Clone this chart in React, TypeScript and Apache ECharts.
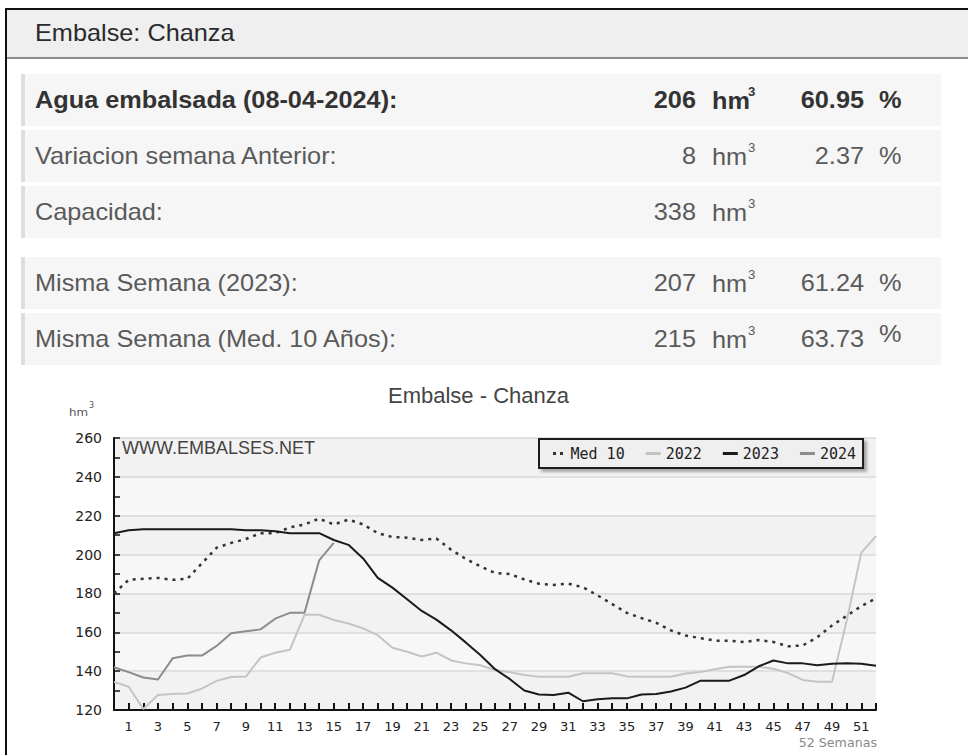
import React, { useEffect, useRef } from 'react';
import * as echarts from 'echarts';

// ---------- data ----------
const weeks = ['0','1','2','3','4','5','6','7','8','9','10','11','12','13','14','15','16','17','18','19','20','21','22','23','24','25','26','27','28','29','30','31','32','33','34','35','36','37','38','39','40','41','42','43','44','45','46','47','48','49','50','51','52'];

const med10 = [180, 187, 187.5, 188, 187, 187.5, 195.5, 203.5, 206, 208, 211, 211, 214, 215.5, 218.5, 215.5, 218, 215.5, 211, 209, 208.7, 207.5, 208.3, 202.5, 197.8, 194, 190.5, 190, 187.2, 185, 184.4, 185, 183.2, 179, 174.5, 170, 167.3, 164.9, 161, 158.3, 157, 155.7, 155.6, 155, 156, 155, 152.8, 153.2, 157.5, 163.5, 168.5, 173.5, 177.5];

const y2022 = [134.5, 132, 120.5, 127.7, 128.2, 128.5, 131, 135, 137, 137.2, 147, 149.5, 151, 169, 169, 166.3, 164.5, 162, 158.5, 152, 150, 147.5, 149.5, 145.5, 144, 143, 140.5, 139.5, 138, 137.1, 137.1, 137.1, 138.9, 138.9, 138.9, 137.3, 137.1, 137.1, 137.1, 138.8, 139.5, 141, 142.3, 142.3, 142.3, 141.2, 139, 135.5, 134.6, 134.6, 166, 201, 209.5];

const y2023 = [211, 212.5, 213, 213, 213, 213, 213, 213, 213, 212.5, 212.5, 212, 211, 211, 211, 207.5, 205, 198, 188, 183, 177, 171, 166.5, 161, 154.8, 148.3, 141, 136, 130, 128, 127.7, 128.9, 124.5, 125.5, 126, 126, 128, 128.2, 129.5, 131.5, 135, 135, 135.1, 138, 142.5, 145.5, 144, 144, 143, 143.8, 144, 143.8, 142.8];

const y2024 = [142, 139.5, 136.7, 135.7, 146.6, 148, 148, 153, 159.5, 160.5, 161.5, 167, 170, 170, 197, 206];

const seriesNames = ['Med 10', '2022', '2023', '2024'];

const yMin = 120;
const yMax = 260;
const yStep = 20;

const headerTitle = 'Embalse: Chanza';
const rowLabels = ['Agua embalsada (08-04-2024):', 'Variacion semana Anterior:', 'Capacidad:', 'Misma Semana (2023):', 'Misma Semana (Med. 10 Años):'];
const rowVolumes = ['206', '8', '338', '207', '215'];
const rowPercents = ['60.95', '2.37', '', '61.24', '63.73'];

const chartTitle = 'Embalse - Chanza';
const watermark = 'WWW.EMBALSES.NET';
const xAxisNote = '52 Semanas';

// ---------- layout ----------
const rowTops = [74, 130, 186, 257, 313];
const ROW_H = 52;
const SANS = '"Liberation Sans", Arial, sans-serif';
const VERD = '"DejaVu Sans", Verdana, sans-serif';
const MONO = '"DejaVu Sans Mono", monospace';

function buildGraphic() {
  const g: any[] = [];
  // header band
  g.push({ type: 'rect', shape: { x: 6, y: 10, width: 962, height: 47 }, style: { fill: '#efefef' }, silent: true });
  g.push({ type: 'rect', shape: { x: 6, y: 57, width: 962, height: 2 }, style: { fill: '#8c8c8c' }, silent: true });
  // black frame
  g.push({ type: 'rect', shape: { x: 5, y: 8, width: 963, height: 2 }, style: { fill: '#111' }, silent: true });
  g.push({ type: 'rect', shape: { x: 5, y: 8, width: 2, height: 747 }, style: { fill: '#111' }, silent: true });
  g.push({
    type: 'text', x: 35, y: 33, scaleX: 1.1,
    style: { text: headerTitle, fontSize: 23, fontFamily: SANS, fill: '#2a2a2a', align: 'left', verticalAlign: 'middle' },
  });

  rowLabels.forEach((label, i) => {
    const top = rowTops[i];
    const cy = top + ROW_H / 2;
    const bold = i === 0;
    const color = bold ? '#333' : '#5a5a5a';
    const weight = bold ? 'bold' : 'normal';
    g.push({ type: 'rect', shape: { x: 21, y: top, width: 920, height: ROW_H }, style: { fill: '#f6f6f6' }, silent: true });
    g.push({ type: 'rect', shape: { x: 21, y: top, width: 4, height: ROW_H }, style: { fill: '#dedede' }, silent: true });
    g.push({
      type: 'text', x: 35, y: cy, scaleX: 1.1,
      style: { text: label, fontSize: 23, fontWeight: weight, fontFamily: SANS, fill: color, align: 'left', verticalAlign: 'middle' },
    });
    g.push({
      type: 'text', x: 696, y: cy, scaleX: 1.1,
      style: { text: rowVolumes[i], fontSize: 23, fontWeight: weight, fontFamily: SANS, fill: color, align: 'right', verticalAlign: 'middle' },
    });
    g.push({
      type: 'text', x: 712, y: cy + 1, scaleX: 1.1,
      style: { text: 'hm', fontSize: 23, fontWeight: weight, fontFamily: SANS, fill: color, align: 'left', verticalAlign: 'middle' },
    });
    g.push({
      type: 'text', x: 748, y: cy - 8, scaleX: 1.1,
      style: { text: '3', fontSize: 12, fontWeight: weight, fontFamily: SANS, fill: color, align: 'left', verticalAlign: 'middle' },
    });
    if (rowPercents[i]) {
      g.push({
        type: 'text', x: 864, y: cy, scaleX: 1.1,
        style: { text: rowPercents[i], fontSize: 23, fontWeight: weight, fontFamily: SANS, fill: color, align: 'right', verticalAlign: 'middle' },
      });
      g.push({
        type: 'text', x: 879, y: i === 4 ? cy - 5 : cy, scaleX: 1.1,
        style: { text: '%', fontSize: 23, fontWeight: weight, fontFamily: SANS, fill: color, align: 'left', verticalAlign: 'middle' },
      });
    }
  });

  // unit label of the value axis
  g.push({ type: 'text', x: 69, y: 412, scaleX: 1.08, style: { text: 'hm', fontSize: 11, fontFamily: VERD, fill: '#555', align: 'left', verticalAlign: 'middle' } });
  g.push({ type: 'text', x: 89, y: 405, style: { text: '3', fontSize: 8, fontFamily: VERD, fill: '#555', align: 'left', verticalAlign: 'middle' } });
  // watermark in the plot
  g.push({ type: 'text', x: 122, y: 448, z: 10, style: { text: watermark, fontSize: 18, fontFamily: SANS, fill: '#444', align: 'left', verticalAlign: 'middle' } });
  // weeks note
  g.push({ type: 'text', x: 877, y: 743, scaleX: 1.1, style: { text: xAxisNote, fontSize: 11.5, fontFamily: VERD, fill: '#8a8a8a', align: 'right', verticalAlign: 'middle' } });
  return g;
}

export default function App() {
  const ref = useRef<HTMLDivElement>(null);
  useEffect(() => {
    if (!ref.current) return;
    const chart = echarts.init(ref.current, undefined, { renderer: 'svg' });
    const option: any = {
      animation: false,
      backgroundColor: '#ffffff',
      title: {
        text: chartTitle,
        left: 388,
        top: 384,
        padding: 0,
        textStyle: { fontFamily: SANS, fontSize: 22, fontWeight: 'normal', color: '#444' },
      },
      legend: {
        left: 539,
        top: 439,
        padding: [7, 7, 7, 14],
        itemGap: 21,
        itemWidth: 15,
        itemHeight: 3,
        borderColor: '#1a1a1a',
        borderWidth: 2,
        backgroundColor: '#efefef',
        shadowColor: 'rgba(0,0,0,0.3)',
        shadowBlur: 3,
        shadowOffsetX: 3,
        shadowOffsetY: 3,
        textStyle: { fontFamily: MONO, fontSize: 15, color: '#222' },
        data: [
          { name: seriesNames[0], icon: 'path://M0,0h3v3h-3zM7,0h3v3h-3z' },
          { name: seriesNames[1], icon: 'rect' },
          { name: seriesNames[2], icon: 'rect' },
          { name: seriesNames[3], icon: 'rect' },
        ],
      },
      grid: { left: 114, right: 92, top: 438, bottom: 45, containLabel: false },
      xAxis: {
        type: 'category',
        data: weeks,
        boundaryGap: false,
        axisLine: { lineStyle: { color: '#111', width: 2 } },
        axisTick: { show: true, inside: true, length: 7, interval: 0, lineStyle: { color: '#111', width: 2 } },
        axisLabel: {
          interval: (i: number) => i % 2 === 1,
          margin: 10,
          fontFamily: VERD,
          fontSize: 13,
          color: '#222',
        },
        splitLine: { show: false },
      },
      yAxis: {
        type: 'value',
        min: yMin,
        max: yMax,
        interval: yStep,
        axisLine: { show: true, lineStyle: { color: '#111', width: 2 } },
        axisTick: { show: true, inside: true, length: 6, lineStyle: { color: '#111', width: 1.5 } },
        minorTick: { show: true, splitNumber: 2, length: 6, lineStyle: { color: '#111', width: 1.5 } },
        axisLabel: { margin: 12, fontFamily: VERD, fontSize: 14, color: '#222' },
        splitLine: { show: true, lineStyle: { color: '#d8d8d8', width: 1.5 } },
        splitArea: { show: true, areaStyle: { color: ['#f2f2f2', '#f7f7f7'] } },
      },
      series: [
        {
          name: seriesNames[0], type: 'line', data: med10, symbol: 'none', color: '#333',
          lineStyle: { color: '#333', width: 2.5, type: [3, 5] },
        },
        {
          name: seriesNames[1], type: 'line', data: y2022, symbol: 'none', color: '#c4c4c4',
          lineStyle: { color: '#c4c4c4', width: 2 },
        },
        {
          name: seriesNames[2], type: 'line', data: y2023, symbol: 'none', color: '#1a1a1a',
          lineStyle: { color: '#1a1a1a', width: 2 },
        },
        {
          name: seriesNames[3], type: 'line', data: y2024, symbol: 'none', color: '#8c8c8c',
          lineStyle: { color: '#8c8c8c', width: 2 },
        },
      ],
      graphic: buildGraphic(),
    };
    chart.setOption(option);
    return () => chart.dispose();
  }, []);
  return <div ref={ref} style={{ position: 'fixed', left: 0, top: 0, width: 968, height: 755 }} />;
}
